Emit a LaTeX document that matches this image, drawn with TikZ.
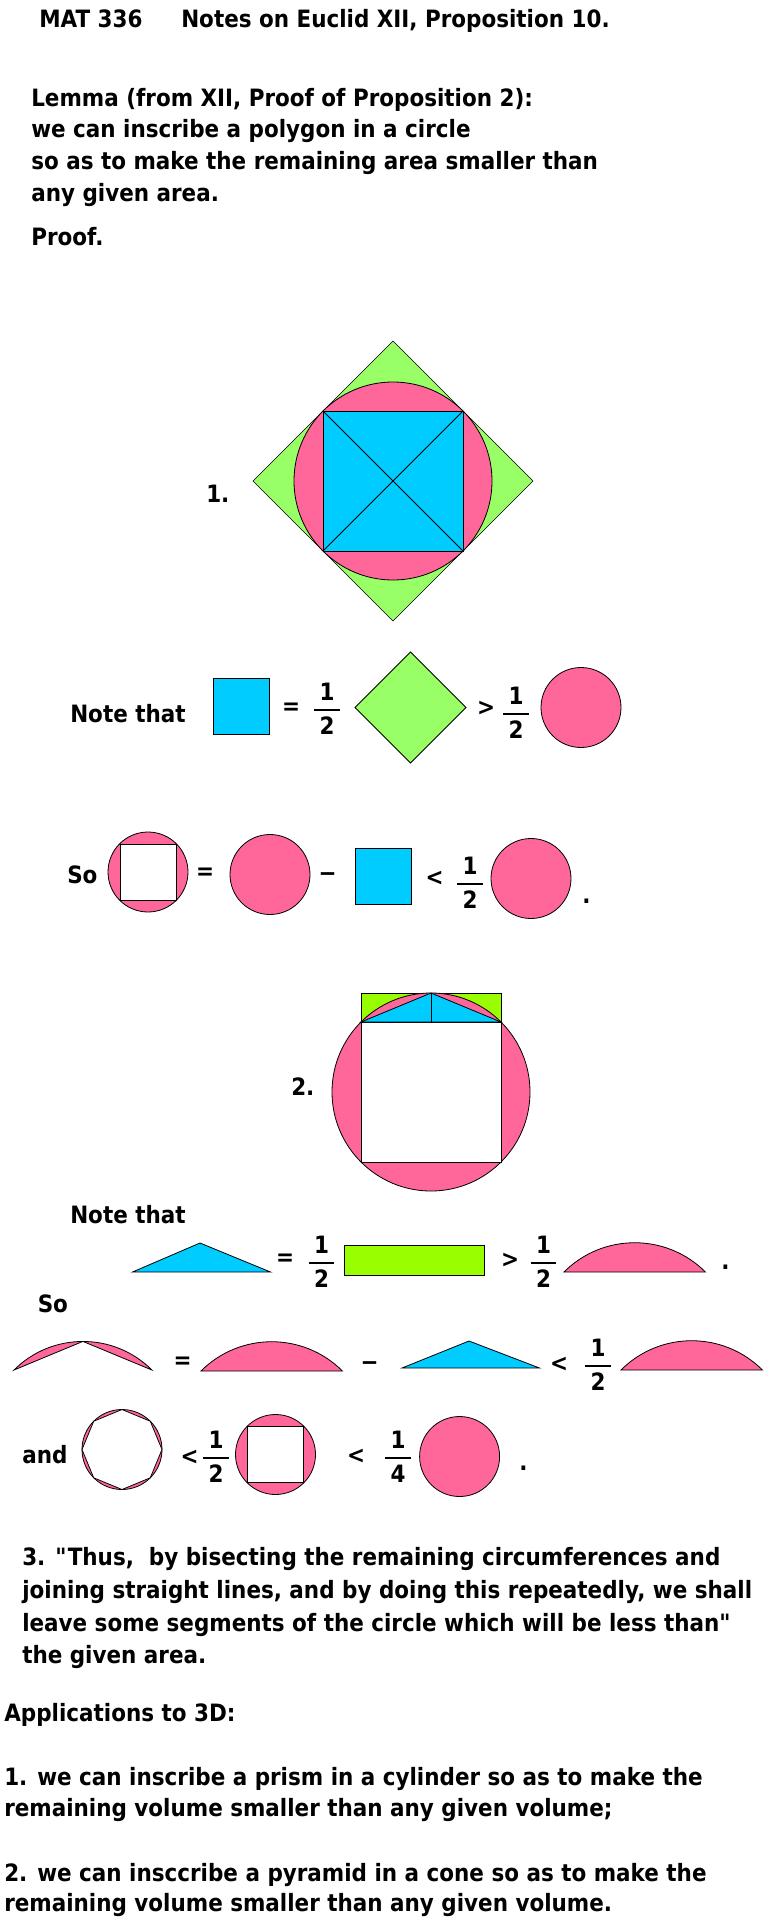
\documentclass[tikz,border=0pt]{standalone}
\usepackage{fontspec}
\usepackage{amsmath}
\setmainfont{DejaVu Sans}[FakeStretch=0.9]
\definecolor{rose}{HTML}{FF6699}
\definecolor{sky}{HTML}{00CCFF}
\definecolor{leaf}{HTML}{99FF66}
\definecolor{rectgreen}{HTML}{99FF00}
\newcommand{\fracsym}[2]{$\genfrac{}{}{1.5pt}{0}{\hbox{\kern4pt#1\kern4pt}}{\hbox{\kern4pt#2\kern4pt}}$}
\newcommand{\sq}{\XeTeXglyph\XeTeXglyphindex "quotedbl"\relax}

\begin{document}
\begin{tikzpicture}[x=0.75pt,y=-0.75pt,every node/.style={font=\fontsize{17.9}{24}\selectfont\bfseries},
txt/.style={anchor=base west,inner sep=0pt},sym/.style={inner sep=0pt},fig/.style={draw=black,line width=0.6pt}
]
\fill[white] (0,0) rectangle (764,1919);
\useasboundingbox (0,0) rectangle (764,1919);

% heading and lemma
\node[txt] (mat) at (39,28) {MAT 336};
\node[txt] (title) at (181,28) {Notes on Euclid XII, Proposition 10.};
\foreach \y/\t [count=\i] in {107/{Lemma (from XII, Proof of Proposition 2):},138/{we can inscribe a polygon in a circle},
170/{so as to make the remaining area smaller than},202/{any given area.},246/{Proof.}}
\node[txt] (lem\i) at (31,\y) {\t};

% step 1
\fill[leaf,draw=black,line width=0.4pt] (393,341) -- (533,481) -- (393,621) -- (253,481) -- cycle;
\draw[fig,fill=rose] (393,481) circle[radius=99];
\draw[fig,fill=sky] (323,411) rectangle (463,551);
\draw[fig] (323,411) -- (463,551) (463,411) -- (323,551);
\node[txt] (one) at (206,502) {1.};

\node[txt] (note1) at (70,722) {Note that};
\draw[fig,fill=sky] (213,678) rectangle (269,734);
\node[sym] (eqa) at (291,709) {=};
\node[sym] (fa) at (327,709) {\fracsym{1}{2}};
\draw[fig,fill=leaf] (410.5,652) -- (466,707.5) -- (410.5,763) -- (355,707.5) -- cycle;
\node[sym] (gta) at (486,708) {>};
\node[sym] (fb) at (516,713) {\fracsym{1}{2}};
\draw[fig,fill=rose] (581,707.5) circle[radius=40];

\node[txt] (so1) at (67,883) {So};
\draw[fig,fill=rose] (148,872) circle[radius=40];
\draw[fig,fill=white] (120,844) rectangle (176,900);
\node[sym] (eqb) at (205,874) {=};
\draw[fig,fill=rose] (270,874.5) circle[radius=40];
\node[sym] (mia) at (327.5,877) {−};
\draw[fig,fill=sky] (355,848) rectangle (411,904);
\node[sym] (lta) at (434.5,878) {<};
\node[sym] (fc) at (470,883) {\fracsym{1}{2}};
\draw[fig,fill=rose] (531,878.5) circle[radius=40];
\node[txt] (dota) at (582,903) {.};

% step 2
\draw[fig,fill=rectgreen] (361,993) rectangle (501,1022);
\draw[fig,fill=rose] (431,1092) circle[radius=99];
\draw[fig,fill=white] (361,1022) rectangle (501,1162);
\draw[fig,fill=sky] (361,1022) -- (431,993) -- (501,1022) -- cycle;
\draw[fig] (431,993) -- (431,1022);
\node[txt] (two) at (291,1095) {2.};

\node[txt] (note2) at (70,1223) {Note that};
\draw[fig,fill=sky] (132.5,1272) -- (200,1243) -- (270.5,1272) -- cycle;
\node[sym] (eqc) at (285,1260) {=};
\node[sym] (fd) at (321.5,1262) {\fracsym{1}{2}};
\draw[fig,fill=rectgreen] (344.5,1245) rectangle (484,1275);
\node[sym] (gtb) at (510,1260) {>};
\node[sym] (fe) at (543.5,1262) {\fracsym{1}{2}};
\draw[fig,fill=rose] (564,1272) arc[start angle=225,end angle=315,radius=100] -- cycle;
\node[txt] (dotb) at (721,1269) {.};

\node[txt] (so2) at (37.5,1312) {So};
\draw[fig,fill=rose] (14,1370) arc[start angle=225,end angle=315,radius=97.5] -- (82.9,1341.4) -- cycle;
\node[sym] (eqd) at (182.5,1363) {=};
\draw[fig,fill=rose] (201,1371) arc[start angle=225,end angle=315,radius=100] -- cycle;
\node[sym] (mib) at (369.5,1366) {−};
\draw[fig,fill=sky] (402,1368) -- (469,1341) -- (539.5,1368) -- cycle;
\node[sym] (ltb) at (559,1364) {<};
\node[sym] (ff) at (598,1365) {\fracsym{1}{2}};
\draw[fig,fill=rose] (621,1370) arc[start angle=225,end angle=315,radius=100] -- cycle;

\node[txt] (and) at (22,1463) {and};
\draw[fig,fill=rose] (122,1449.5) circle[radius=40];
\draw[fig,fill=white,shift={(122,1449.5)}] (0:40) \foreach \a in {45,90,...,315} { -- (\a:40) } -- cycle;
\node[sym] (ltc) at (189.5,1457) {<};
\node[sym] (fg) at (216,1457) {\fracsym{1}{2}};
\draw[fig,fill=rose] (275.5,1454.5) circle[radius=40];
\draw[fig,fill=white] (247.5,1426.5) rectangle (303.5,1482.5);
\node[sym] (ltd) at (356,1456) {<};
\node[sym] (fh) at (398,1457) {\fracsym{1}{4}};
\draw[fig,fill=rose] (459.6,1456.5) circle[radius=40];
\node[txt] (dotc) at (519,1470) {.};

% step 3 and applications
\foreach \y/\t [count=\i] in {1565/{3. \sq Thus,\ \ by bisecting the remaining circumferences and},
1598/{joining straight lines, and by doing this repeatedly, we shall},
1631/{leave some segments of the circle which will be less than\sq},1663/{the given area.}}
\node[txt] (thr\i) at (22,\y) {\t};
\foreach \y/\t [count=\i] in {1721/{Applications to 3D:},1785/{1. we can inscribe a prism in a cylinder so as to make the},
1816/{remaining volume smaller than any given volume;},1881/{2. we can insccribe a pyramid in a cone so as to make the},
1911/{remaining volume smaller than any given volume.}}
\node[txt] (app\i) at (4,\y) {\t};

\end{tikzpicture}
\end{document}
